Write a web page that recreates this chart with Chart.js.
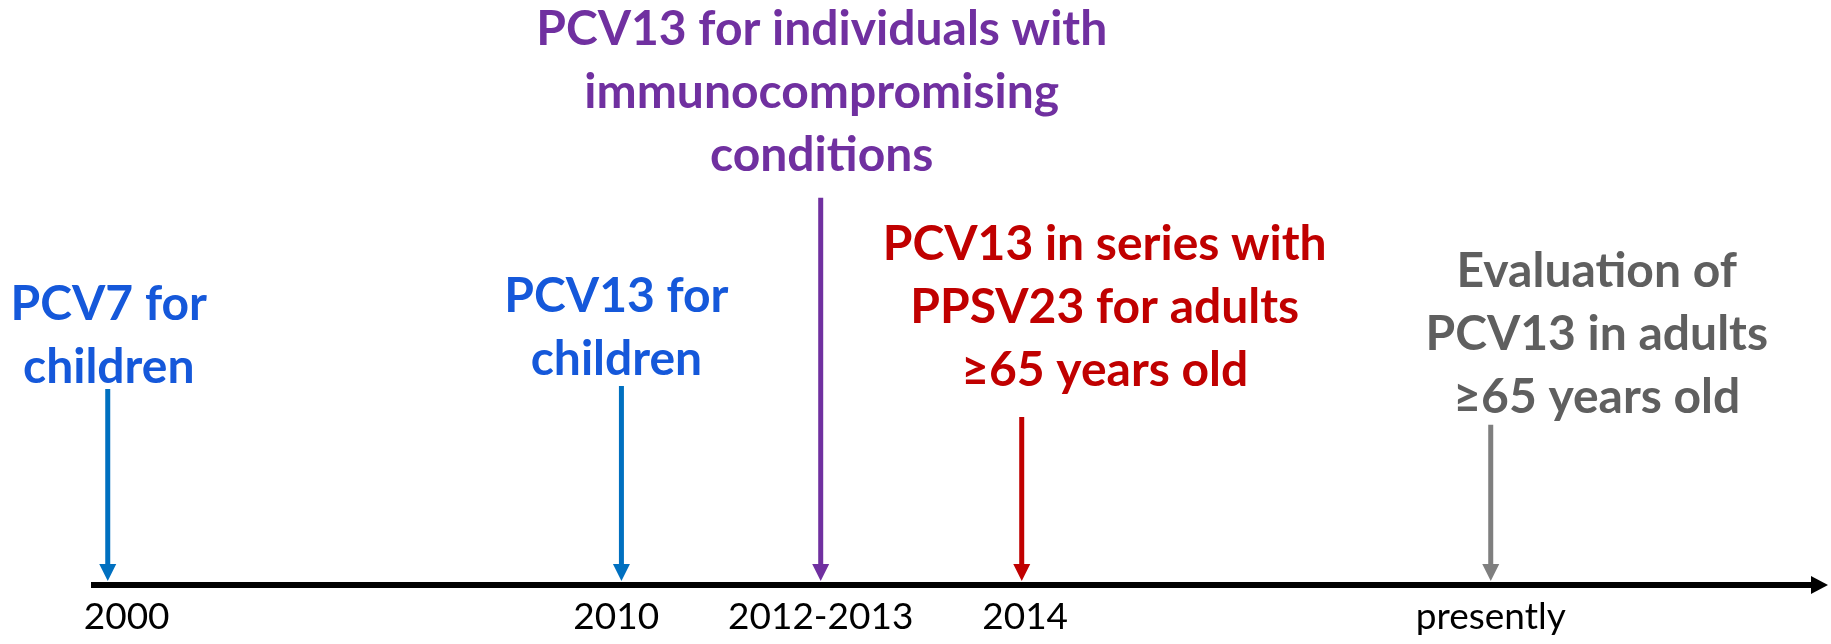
<!DOCTYPE html>
<html>
<head>
<meta charset="utf-8">
<script src="https://cdn.jsdelivr.net/npm/chart.js@4.4.0/dist/chart.umd.min.js"></script>
<style>
  html, body { margin: 0; padding: 0; background: #fff; }
  #wrap { width: 1831px; height: 644px; }
</style>
</head>
<body>
<div id="wrap"><canvas id="grafico"></canvas></div>
<script>
// timeline data
const tickLabels = ['2000', '2010', '2012-2013', '2014', 'presently'];
const tickPos = [1.9, 30.4, 42.3, 54.2, 81.3];
const eventPos = [0.8, 30.7, 42.3, 54.0, 81.3];
const arrowHeight = [33.5, 34.0, 66.2, 28.7, 27.4];
const notes = [
  ['PCV7 for', 'children'],
  ['PCV13 for', 'children'],
  ['PCV13 for individuals with', 'immunocompromising', 'conditions'],
  ['PCV13 in series with', 'PPSV23 for adults', '≥65 years old'],
  ['Evaluation of', 'PCV13 in adults', '≥65 years old']
];
const arrowColors = ['#0070C0', '#0070C0', '#7030A0', '#C00000', '#7F7F7F'];
const noteColors = ['#1558DA', '#1558DA', '#7030A0', '#C00000', '#5F5F5F'];

// where the notes sit: shift from the arrow and first baseline (px)
const noteShift = [1, -5, 1, 83, 106];
const noteTop = [320, 312, 45, 260, 287];

window.addEventListener('load', () => {
  const ctx = document.getElementById('grafico').getContext('2d');

  // arrow heads on each event and on the time axis
  const pontas = {
    id: 'pontas',
    afterDatasetsDraw(chart) {
      const c = chart.ctx;
      const area = chart.chartArea;
      const y0 = chart.scales.y.getPixelForValue(0);
      c.save();
      chart.data.datasets.forEach((ds, i) => {
        const px = chart.scales.x.getPixelForValue(eventPos[i]);
        const tip = y0 - 4;
        c.fillStyle = ds.borderColor;
        c.beginPath();
        c.moveTo(px - 8.5, tip - 17);
        c.lineTo(px + 8.5, tip - 17);
        c.lineTo(px, tip);
        c.closePath();
        c.fill();
      });
      c.fillStyle = '#000';
      c.beginPath();
      c.moveTo(area.right - 1, y0 - 9);
      c.lineTo(area.right + 16, y0);
      c.lineTo(area.right - 1, y0 + 9);
      c.closePath();
      c.fill();
      c.restore();
    }
  };

  // the coloured notes above the arrows
  const textos = {
    id: 'textos',
    afterDraw(chart) {
      const c = chart.ctx;
      c.save();
      c.textAlign = 'center';
      c.textBaseline = 'alphabetic';
      c.font = 'bold 48px Lato';
      notes.forEach((linhas, i) => {
        const px = chart.scales.x.getPixelForValue(eventPos[i]) + noteShift[i];
        c.fillStyle = noteColors[i];
        linhas.forEach((t, k) => {
          c.fillText(t, px, noteTop[i] + k * 63);
        });
      });
      c.restore();
    }
  };

  new Chart(ctx, {
    type: 'line',
    data: {
      datasets: eventPos.map((x, i) => ({
        label: tickLabels[i],
        data: [{ x: x, y: arrowHeight[i] }, { x: x, y: 0 }],
        borderColor: arrowColors[i],
        borderWidth: 5,
        pointRadius: 0,
        clip: { left: false, right: false, top: false, bottom: -14 }
      }))
    },
    options: {
      responsive: true,
      maintainAspectRatio: false,
      animation: false,
      layout: { padding: { left: 94, right: 19, top: 0, bottom: 0 } },
      plugins: { legend: { display: false }, tooltip: { enabled: false } },
      scales: {
        x: {
          type: 'linear',
          min: 0,
          max: 100,
          grid: { display: false, drawTicks: false },
          border: { display: true, color: '#000', width: 6 },
          ticks: {
            font: { family: 'Lato', size: 37 },
            color: '#000',
            padding: 10,
            autoSkip: false,
            maxRotation: 0,
            callback: (v, i) => tickLabels[i]
          },
          afterBuildTicks: s => { s.ticks = tickPos.map(v => ({ value: v })); },
          afterFit: s => { s.height = 59; }
        },
        y: { display: false, min: 0, max: 100 }
      }
    },
    plugins: [pontas, textos]
  });
});
</script>
</body>
</html>
